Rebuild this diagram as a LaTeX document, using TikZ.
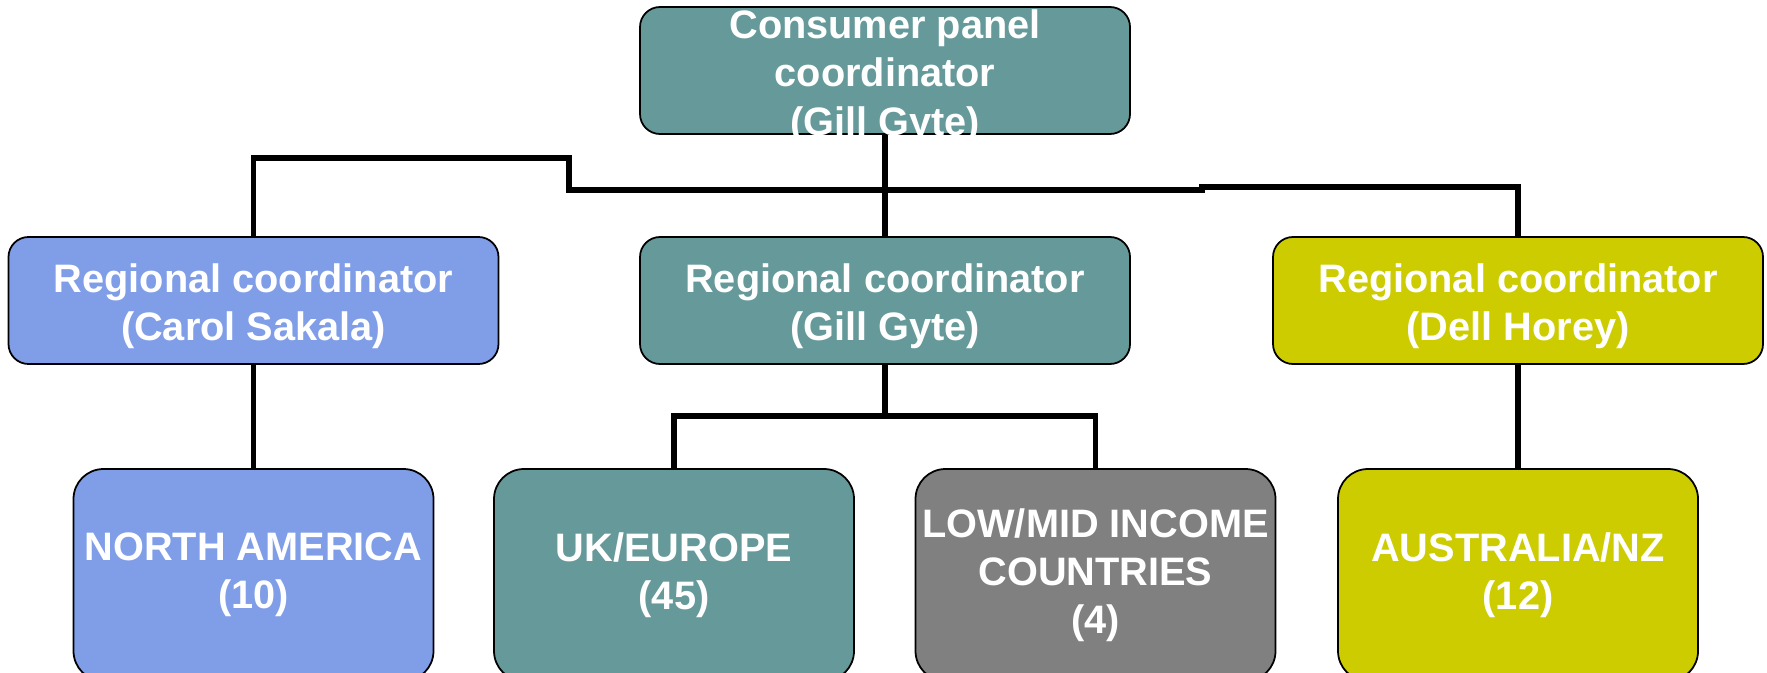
\documentclass[tikz,border=0pt]{standalone}
\usepackage{fontspec}
\setmainfont{Liberation Sans}
\usetikzlibrary{positioning}

\definecolor{panelteal}{RGB}{102,153,153}
\definecolor{regionblue}{RGB}{128,158,232}
\definecolor{regionyellow}{RGB}{204,204,0}
\definecolor{regiongray}{RGB}{128,128,128}

% extra room above the first line
\newcommand\lift{\rule{0pt}{11.5pt}}

\begin{document}
\begin{tikzpicture}[
    font=\fontsize{11.3}{13.6}\selectfont\bfseries,
    coord/.style={draw,line width=0.5pt,rounded corners=0.2cm,minimum width=4.9cm,minimum height=1.27cm,inner ysep=-3pt,text=white,align=center},
    area/.style={draw,line width=0.5pt,rounded corners=0.3cm,minimum width=3.6cm,minimum height=2.12cm,inner xsep=0pt,text=white,align=center},
    line/.style={line width=1.5pt}
]
\useasboundingbox (0,0) rectangle (17.67,6.72);
\clip (0,0) rectangle (17.67,6.72);

% Panel coordinator
\node[coord,fill=panelteal,font=\fontsize{11.3}{13.8}\selectfont\bfseries] (panel) at (8.85,6.015) {\lift Consumer panel\\coordinator\\(Gill Gyte)};

% Regional coordinators
\node[coord,fill=regionblue] (regL) at (2.535,3.715) {\lift Regional coordinator\\(Carol Sakala)};
\node[coord,fill=panelteal] (regC) at (8.85,3.715) {\lift Regional coordinator\\(Gill Gyte)};
\node[coord,fill=regionyellow] (regR) at (15.18,3.715) {\lift Regional coordinator\\(Dell Horey)};

% Areas
\node[area,fill=regionblue] (na) at (2.535,0.97) {NORTH AMERICA\\(10)};
\node[area,fill=panelteal] (uk) at (6.74,0.97) {UK/EUROPE\\(45)};
\node[area,fill=regiongray] (low) at (10.955,0.97) {LOW/MID INCOME\\COUNTRIES\\(4)};
\node[area,fill=regionyellow] (aus) at (15.18,0.97) {AUSTRALIA/NZ\\(12)};

% Links
\coordinate (kinkA) at (5.69,5.14);
\coordinate (kinkB) at (12.02,4.82);
\coordinate (kinkC) at (12.02,4.85);
\coordinate (split) at (8.85,2.56);

\draw[line] (panel) -- (regC);
\draw[line] (regL.north) |- (kinkA) |- (kinkB) -- (kinkC) -| (regR.north);

\draw[line] (regL) -- (na);
\draw[line] (regC) -- (split);
\draw[line] (uk.north) |- (split) -| (low.north);
\draw[line] (regR) -- (aus);

\end{tikzpicture}
\end{document}
